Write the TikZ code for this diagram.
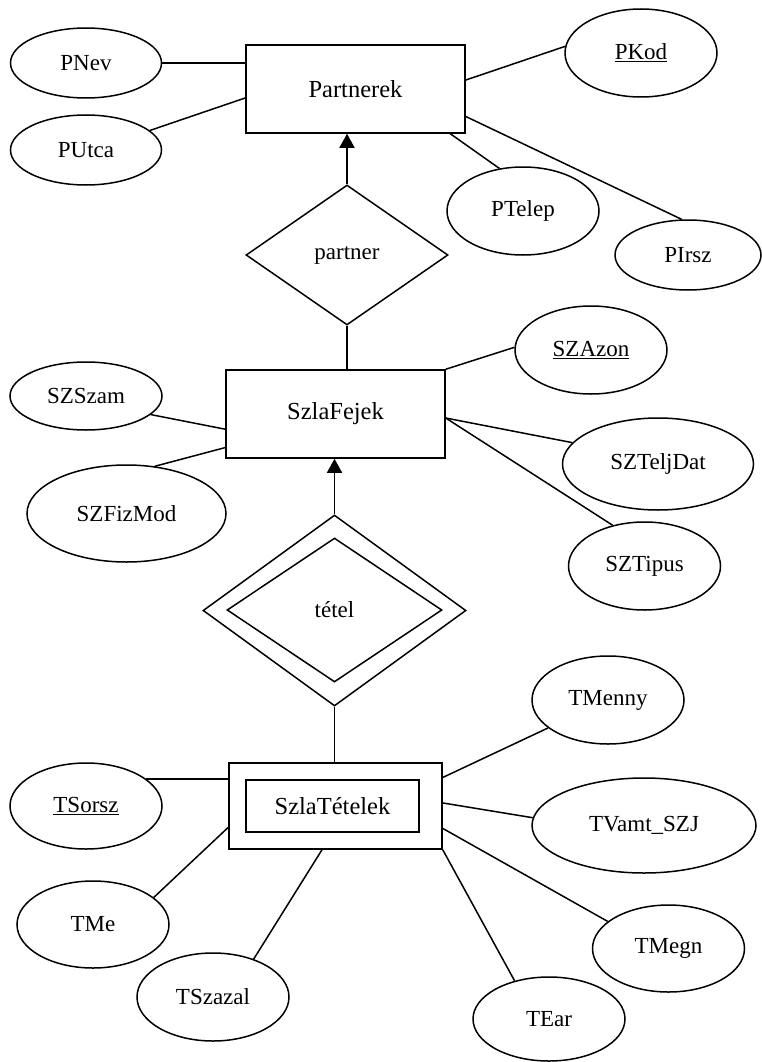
\documentclass[tikz,border=0pt]{standalone}
\usepackage{fontspec}
\setmainfont{Liberation Serif}
\usetikzlibrary{shapes.geometric,arrows.meta,calc}
\begin{document}
\begin{tikzpicture}[x=1pt,y=-1pt,line width=1.5pt,
  attr/.style={draw,ellipse,inner sep=0pt,font=\fontsize{23}{25}\selectfont},
  ent/.style={draw,rectangle,inner sep=0pt,font=\fontsize{24.5}{27}\selectfont},
  rel/.style={draw,diamond,inner sep=0pt,font=\fontsize{23}{25}\selectfont},
  isa/.style={-{Triangle[width=15pt,length=14pt]}}]
\useasboundingbox (0,0) rectangle (762,1062);
% entities and relationships
\node[ent,minimum width=219pt,minimum height=88pt] (Partnerek) at (355.5,89) {Partnerek};
\node[rel,minimum width=202pt,minimum height=140pt] (partner) at (347,255) {partner};
\node[ent,minimum width=219pt,minimum height=88pt] (SzlaFejek) at (335.5,414) {SzlaFejek};
\node[rel,minimum width=263pt,minimum height=191pt] (tetelO) at (334.5,610.5) {};
\node[rel,minimum width=215pt,minimum height=144pt] (tetel) at (334.5,610) {tétel};
\node[ent,minimum width=213pt,minimum height=86pt] (SzlaTO) at (335.5,806) {};
\node[ent,minimum width=173pt,minimum height=52pt] (SzlaTetelek) at (332.5,806) {SzlaTételek};
% attributes
\node[attr,minimum width=151pt,minimum height=70pt] (PNev) at (86,63) {PNev};
\node[attr,minimum width=151pt,minimum height=70pt] (PUtca) at (86,150) {PUtca};
\node[attr,minimum width=152pt,minimum height=88pt] (PKod) at (641,53) {\underline{PKod}};
\node[attr,minimum width=152pt,minimum height=88pt] (PTelep) at (523,211) {PTelep};
\node[attr,minimum width=146pt,minimum height=70pt] (PIrsz) at (688,255) {PIrsz};
\node[attr,minimum width=152pt,minimum height=88pt] (SZAzon) at (591,350) {\underline{SZAzon}};
\node[attr,minimum width=152pt,minimum height=68pt] (SZSzam) at (86,396) {SZSzam};
\node[attr,minimum width=191pt,minimum height=92pt] (SZTeljDat) at (658,464) {SZTeljDat};
\node[attr,minimum width=199pt,minimum height=97pt] (SZFizMod) at (126.5,513.5) {SZFizMod};
\node[attr,minimum width=152pt,minimum height=88pt] (SZTipus) at (644.5,566) {SZTipus};
\node[attr,minimum width=152pt,minimum height=88pt] (TMenny) at (608,700) {TMenny};
\node[attr,minimum width=152pt,minimum height=86pt] (TSorsz) at (86,806) {\underline{TSorsz}};
\node[attr,minimum width=224pt,minimum height=95pt] (TVamt) at (644,825.5) {TVamt\_SZJ};
\node[attr,minimum width=152pt,minimum height=87pt] (TMe) at (93,924.5) {TMe};
\node[attr,minimum width=152pt,minimum height=87pt] (TMegn) at (668.5,948.5) {TMegn};
\node[attr,minimum width=152pt,minimum height=88pt] (TSzazal) at (213,997) {TSzazal};
\node[attr,minimum width=152pt,minimum height=84pt] (TEar) at (549,1019) {TEar};
% connectors: Partnerek
\draw (PNev.east) -- (Partnerek.west |- PNev.east);
\draw (PUtca.17) -- ($(Partnerek.north west)!0.6!(Partnerek.south west)$);
\draw ($(Partnerek.north east)!0.4!(Partnerek.south east)$) -- (PKod.175);
\draw ($(Partnerek.south west)!0.93!(Partnerek.south east)$) -- (PTelep.119);
\draw ($(Partnerek.north east)!0.807!(Partnerek.south east)$) -- (PIrsz.100);
\draw[isa] (partner.north) -- (Partnerek.south -| partner.north);
\draw (partner.south) -- (SzlaFejek.north -| partner.south);
% connectors: SzlaFejek
\draw (SzlaFejek.north east) -- (SZAzon.178);
\draw (SZSzam.-16) -- ($(SzlaFejek.north west)!0.67!(SzlaFejek.south west)$);
\draw (SZFizMod.59) -- ($(SzlaFejek.north west)!0.875!(SzlaFejek.south west)$);
\coordinate (sfr) at ($(SzlaFejek.north east)!0.545!(SzlaFejek.south east)$);
\draw (sfr) -- (SZTeljDat.166);
\draw (sfr) -- (SZTipus.128);
\draw[isa] (tetelO.north) -- (SzlaFejek.south -| tetelO.north);
\draw (tetelO.south) -- (SzlaTO.north -| tetelO.south);
% connectors: SzlaTetelek
\draw ($(SzlaTO.north east)!0.174!(SzlaTO.south east)$) -- (TMenny.205);
\draw (TSorsz.24) -- (SzlaTO.west |- TSorsz.24);
\draw ($(SzlaTO.north east)!0.465!(SzlaTO.south east)$) -- (TVamt.176);
\draw ($(SzlaTO.north west)!0.744!(SzlaTO.south west)$) -- (TMe.24);
\draw ($(SzlaTO.south west)!0.437!(SzlaTO.south east)$) -- (TSzazal.43);
\draw (SzlaTO.south east) -- (TEar.132);
\draw ($(SzlaTO.north east)!0.756!(SzlaTO.south east)$) -- (TMegn.156);
\end{tikzpicture}
\end{document}
